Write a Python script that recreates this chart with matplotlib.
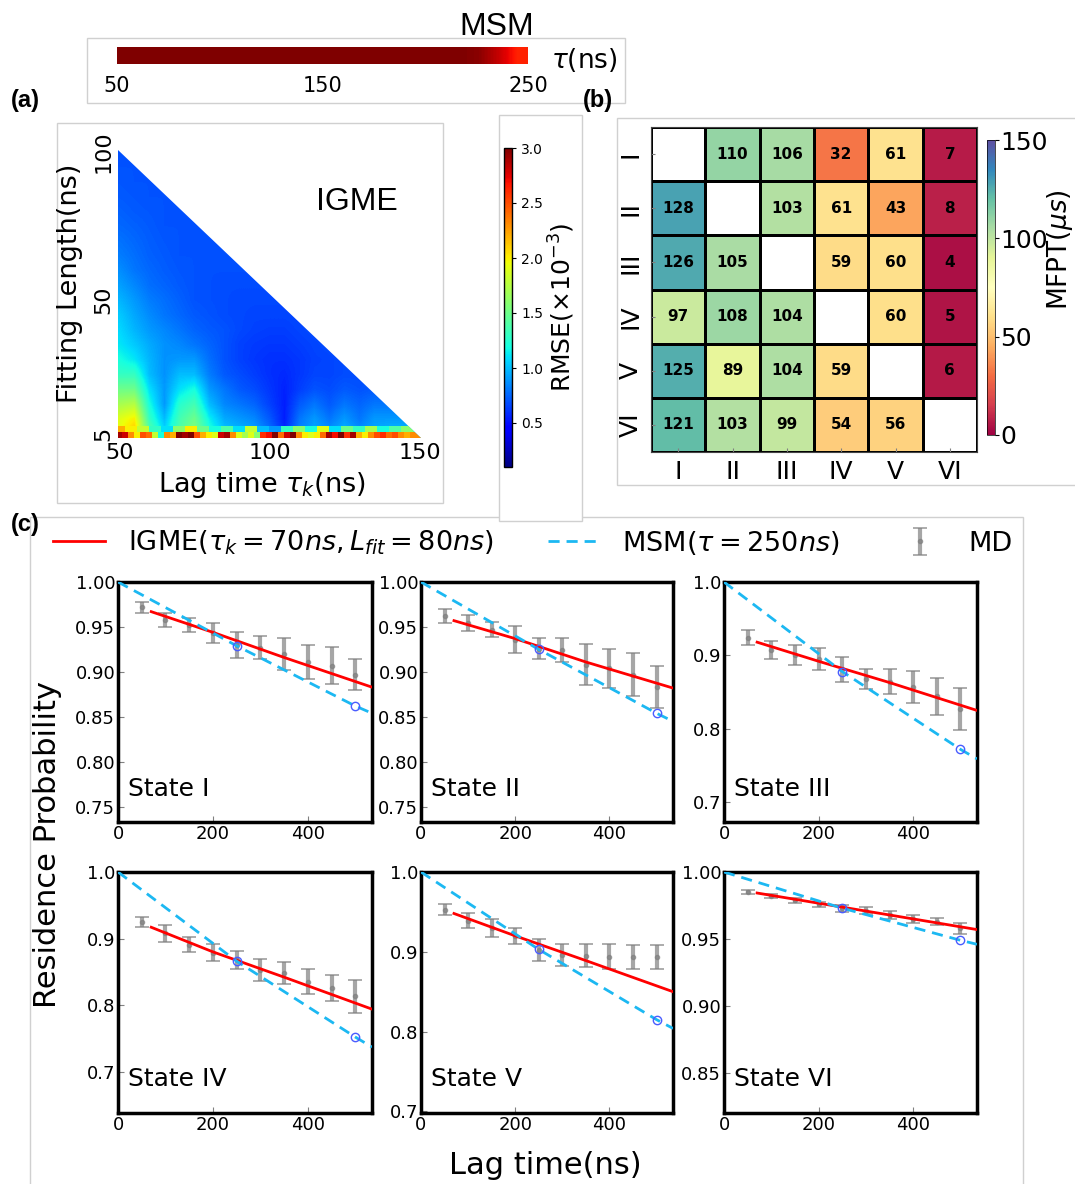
import numpy as np
import matplotlib.pyplot as plt
from matplotlib.patches import Rectangle, Polygon

# ---------------- data ----------------
# MSM RMSE along the lag time (top colour bar)
msm_bar_tau = [50, 60, 70, 80, 90, 100, 110, 120, 130, 140, 150, 160, 170, 180, 190, 200, 210, 220, 230, 240, 250]
msm_bar_rmse = [3.0, 3.0, 3.0, 3.0, 3.0, 3.0, 3.0, 3.0, 3.0, 3.0, 3.0, 3.0, 3.0, 3.0, 3.0, 3.0, 3.0, 3.0, 2.97, 2.82, 2.63]

# IGME RMSE over lag time tau_k (columns) and fitting length (rows)
rmse_tau = [50, 55, 60, 65, 70, 75, 80, 85, 90, 95, 100, 105, 110, 115, 120, 125, 130, 135, 140, 145, 150]
rmse_len = [5, 10, 15, 20, 25, 30, 35, 40, 45, 50, 55, 60, 65, 70, 75, 80, 85, 90, 95, 100]
rmse_grid = [
    [1.95, 2.15, 1.45, 1.10, 1.40, 1.60, 1.25, 1.05, 1.00, 0.95, 0.80, 0.60, 0.85, 0.95, 0.90, 1.00, 0.90, 0.95, 1.00, 1.00, 1.00],
    [1.90, 2.00, 1.30, 1.00, 1.35, 1.50, 1.15, 0.95, 0.90, 0.85, 0.72, 0.55, 0.80, 0.90, 0.80, 0.90, 0.80, 0.90, 0.90, 0.90, 0.90],
    [1.70, 1.75, 1.20, 0.90, 1.25, 1.35, 1.00, 0.85, 0.80, 0.75, 0.65, 0.55, 0.72, 0.80, 0.72, 0.80, 0.75, 0.80, 0.80, 0.80, 0.80],
    [1.50, 1.50, 1.10, 0.90, 1.10, 1.20, 0.90, 0.80, 0.72, 0.68, 0.62, 0.56, 0.64, 0.70, 0.68, 0.72, 0.70, 0.72, 0.72, 0.72, 0.72],
    [1.30, 1.30, 1.00, 0.88, 1.00, 1.00, 0.82, 0.72, 0.68, 0.64, 0.60, 0.58, 0.62, 0.66, 0.66, 0.68, 0.68, 0.70, 0.70, 0.70, 0.70],
    [1.20, 1.12, 0.98, 0.88, 0.90, 0.90, 0.78, 0.70, 0.65, 0.62, 0.60, 0.60, 0.62, 0.65, 0.66, 0.68, 0.68, 0.70, 0.70, 0.70, 0.70],
    [1.12, 1.04, 0.95, 0.88, 0.85, 0.80, 0.75, 0.70, 0.65, 0.63, 0.62, 0.62, 0.64, 0.66, 0.68, 0.68, 0.70, 0.70, 0.70, 0.70, 0.70],
    [1.08, 0.98, 0.90, 0.85, 0.80, 0.75, 0.72, 0.70, 0.67, 0.65, 0.64, 0.64, 0.66, 0.68, 0.68, 0.70, 0.70, 0.70, 0.70, 0.70, 0.70],
    [1.04, 0.94, 0.86, 0.80, 0.76, 0.72, 0.70, 0.68, 0.67, 0.66, 0.66, 0.66, 0.67, 0.68, 0.70, 0.70, 0.70, 0.70, 0.70, 0.70, 0.70],
    [0.98, 0.90, 0.82, 0.78, 0.74, 0.70, 0.69, 0.68, 0.67, 0.67, 0.67, 0.67, 0.68, 0.70, 0.70, 0.70, 0.70, 0.70, 0.70, 0.70, 0.70],
    [0.92, 0.85, 0.78, 0.75, 0.72, 0.70, 0.69, 0.68, 0.68, 0.68, 0.68, 0.68, 0.70, 0.70, 0.70, 0.70, 0.70, 0.70, 0.70, 0.70, 0.70],
    [0.87, 0.80, 0.76, 0.73, 0.71, 0.70, 0.69, 0.69, 0.69, 0.69, 0.69, 0.70, 0.70, 0.70, 0.70, 0.70, 0.70, 0.70, 0.70, 0.70, 0.70],
    [0.82, 0.78, 0.74, 0.72, 0.70, 0.70, 0.70, 0.70, 0.70, 0.70, 0.70, 0.70, 0.70, 0.70, 0.70, 0.70, 0.70, 0.70, 0.70, 0.70, 0.70],
    [0.79, 0.76, 0.73, 0.71, 0.70, 0.70, 0.70, 0.70, 0.70, 0.70, 0.70, 0.70, 0.70, 0.70, 0.70, 0.70, 0.70, 0.70, 0.70, 0.70, 0.70],
    [0.76, 0.74, 0.72, 0.70, 0.70, 0.70, 0.70, 0.70, 0.70, 0.70, 0.70, 0.70, 0.70, 0.70, 0.70, 0.70, 0.70, 0.70, 0.70, 0.70, 0.70],
    [0.74, 0.72, 0.71, 0.70, 0.70, 0.70, 0.70, 0.70, 0.70, 0.70, 0.70, 0.70, 0.70, 0.70, 0.70, 0.70, 0.70, 0.70, 0.70, 0.70, 0.70],
    [0.72, 0.71, 0.70, 0.70, 0.70, 0.70, 0.70, 0.70, 0.70, 0.70, 0.70, 0.70, 0.70, 0.70, 0.70, 0.70, 0.70, 0.70, 0.70, 0.70, 0.70],
    [0.71, 0.70, 0.70, 0.70, 0.70, 0.70, 0.70, 0.70, 0.70, 0.70, 0.70, 0.70, 0.70, 0.70, 0.70, 0.70, 0.70, 0.70, 0.70, 0.70, 0.70],
    [0.70, 0.70, 0.70, 0.70, 0.70, 0.70, 0.70, 0.70, 0.70, 0.70, 0.70, 0.70, 0.70, 0.70, 0.70, 0.70, 0.70, 0.70, 0.70, 0.70, 0.70],
    [0.70, 0.70, 0.70, 0.70, 0.70, 0.70, 0.70, 0.70, 0.70, 0.70, 0.70, 0.70, 0.70, 0.70, 0.70, 0.70, 0.70, 0.70, 0.70, 0.70, 0.70],
]
# shortest fitting lengths, sampled more finely in tau_k
base_tau = list(range(50, 151, 2))
base_rmse = [2.9, 2.8, 2.3, 2.0, 2.5, 2.4, 1.8, 1.2, 2.3, 2.2, 3.0, 2.9, 3.0, 2.5, 2.2, 2.0, 1.9, 2.8, 2.9, 2.3,
             1.9, 1.7, 1.9, 1.6, 2.6, 2.7, 3.0, 2.4, 2.8, 3.0, 2.3, 2.0, 1.9, 2.0, 2.4, 2.9, 2.7, 3.0, 2.6, 2.9,
             2.2, 2.0, 2.3, 2.5, 2.6, 2.4, 2.5, 2.3, 2.2, 2.3, 2.3]
second_tau = list(range(50, 151, 4))
second_rmse = [2.2, 2.0, 1.8, 1.3, 1.1, 1.6, 2.0, 1.5, 1.2, 1.4, 1.1, 1.8, 1.0, 0.9, 1.3, 1.6, 1.2, 1.9, 1.1,
               1.5, 1.3, 1.7, 1.2, 1.4, 1.6, 1.5]

# mean first passage times (us), row = from, column = to
states = ['I', 'II', 'III', 'IV', 'V', 'VI']
mfpt = [
    [np.nan, 110, 106, 32, 61, 7],
    [128, np.nan, 103, 61, 43, 8],
    [126, 105, np.nan, 59, 60, 4],
    [97, 108, 104, np.nan, 60, 5],
    [125, 89, 104, 59, np.nan, 6],
    [121, 103, 99, 54, 56, np.nan],
]

# residence probabilities
md_lag = [50, 100, 150, 200, 250, 300, 350, 400, 450, 500]
md_mean = [
    [0.972, 0.958, 0.952, 0.943, 0.930, 0.927, 0.920, 0.911, 0.907, 0.897],
    [0.962, 0.954, 0.947, 0.936, 0.926, 0.924, 0.908, 0.904, 0.897, 0.883],
    [0.924, 0.907, 0.900, 0.895, 0.881, 0.868, 0.864, 0.857, 0.844, 0.827],
    [0.925, 0.908, 0.891, 0.879, 0.868, 0.853, 0.849, 0.835, 0.826, 0.813],
    [0.953, 0.939, 0.930, 0.920, 0.902, 0.896, 0.895, 0.894, 0.893, 0.893],
    [0.985, 0.982, 0.979, 0.976, 0.973, 0.971, 0.968, 0.965, 0.963, 0.958],
]
md_err = [
    [0.006, 0.008, 0.0075, 0.011, 0.014, 0.013, 0.018, 0.019, 0.021, 0.017],
    [0.0075, 0.009, 0.0085, 0.015, 0.012, 0.0135, 0.023, 0.022, 0.024, 0.023],
    [0.010, 0.012, 0.0135, 0.015, 0.017, 0.014, 0.017, 0.022, 0.025, 0.029],
    [0.0075, 0.0125, 0.011, 0.013, 0.013, 0.017, 0.0165, 0.019, 0.0195, 0.025],
    [0.007, 0.009, 0.011, 0.010, 0.0135, 0.0135, 0.0145, 0.016, 0.015, 0.015],
    [0.0013, 0.0015, 0.0018, 0.0018, 0.0026, 0.0025, 0.003, 0.003, 0.0025, 0.004],
]
igme_lag = [70, 200, 350, 535]
igme_val = [
    [0.967, 0.944, 0.916, 0.883],
    [0.957, 0.937, 0.911, 0.882],
    [0.918, 0.892, 0.863, 0.825],
    [0.917, 0.880, 0.842, 0.794],
    [0.948, 0.920, 0.889, 0.850],
    [0.9843, 0.9767, 0.9679, 0.957],
]
msm_lag = [0, 250, 500, 535]
msm_val = [
    [1.0, 0.929, 0.862, 0.854],
    [1.0, 0.925, 0.854, 0.845],
    [1.0, 0.878, 0.772, 0.759],
    [1.0, 0.866, 0.752, 0.737],
    [1.0, 0.903, 0.815, 0.804],
    [1.0, 0.973, 0.949, 0.946],
]
ylims = [(0.733, 1.0), (0.733, 1.0), (0.673, 1.0), (0.638, 1.0), (0.698, 1.0), (0.82, 1.0)]
yticks = [[0.75, 0.80, 0.85, 0.90, 0.95, 1.00], [0.75, 0.80, 0.85, 0.90, 0.95, 1.00],
          [0.7, 0.8, 0.9, 1.0], [0.7, 0.8, 0.9, 1.0], [0.7, 0.8, 0.9, 1.0],
          [0.85, 0.90, 0.95, 1.00]]
yfmt = ['%.2f', '%.2f', '%.1f', '%.1f', '%.1f', '%.2f']

# ---------------- figure ----------------
W, H = 1075, 1184
fig = plt.figure(figsize=(W / 100, H / 100), dpi=100)
ARIAL = 'Liberation Sans'


def box(x0, y0, x1, y1):
    return [x0 / W, 1 - y1 / H, (x1 - x0) / W, (y1 - y0) / H]


def frame(x0, y0, x1, y1, z=-2):
    fig.add_artist(Rectangle((x0 / W, 1 - y1 / H), (x1 - x0) / W, (y1 - y0) / H,
                             transform=fig.transFigure, facecolor='white',
                             edgecolor='#d0d0d0', lw=1, zorder=z))


def ftext(x, y, s, **kw):
    kw.setdefault('ha', 'center')
    kw.setdefault('va', 'center')
    fig.text(x / W, 1 - y / H, s, **kw)


# panel frames
frame(87, 38, 625, 103)
frame(57, 123, 443, 503)
frame(30, 517, 1023, 1200)
frame(499, 115, 582, 521, z=-1)
frame(617, 118, 1080, 485)

# MSM colour bar
ax_m = fig.add_axes(box(117, 47, 528, 64))
ax_m.imshow(np.array([msm_bar_rmse]), cmap='jet', vmin=0.1, vmax=3.0, aspect='auto',
            extent=[msm_bar_tau[0], msm_bar_tau[-1], 0, 1], interpolation='bilinear')
ax_m.set_xlim(50, 250)
ax_m.set_xticks([50, 150, 250])
ax_m.set_yticks([])
ax_m.tick_params(axis='x', length=0, labelsize=15, pad=9)
for sp in ax_m.spines.values():
    sp.set_visible(False)
ftext(497, 27, 'MSM', fontsize=23, family=ARIAL)
ftext(584, 60, r'$\tau$(ns)', fontsize=19)

# (a) IGME RMSE map
ax_a = fig.add_axes(box(118, 150, 421, 438))
im = ax_a.imshow(np.array(rmse_grid), origin='lower', cmap='jet', vmin=0.1, vmax=3.0,
                 extent=[rmse_tau[0] - 2.5, rmse_tau[-1] + 2.5, rmse_len[0] - 2.5, rmse_len[-1] + 2.5],
                 aspect='auto', interpolation='bilinear')
im_second = ax_a.imshow(np.array([second_rmse]), cmap='jet', vmin=0.1, vmax=3.0,
                        extent=[second_tau[0] - 2, second_tau[-1] + 2, 5.5, 7.5],
                        aspect='auto', interpolation='nearest')
im_base = ax_a.imshow(np.array([base_rmse]), cmap='jet', vmin=0.1, vmax=3.0,
                      extent=[base_tau[0] - 1, base_tau[-1] + 1, 3.5, 5.5],
                      aspect='auto', interpolation='nearest')
tri = Polygon([(49.5, 3.5), (49.5, 100.5), (150.5, 3.5)], transform=ax_a.transData)
for img in (im, im_second, im_base):
    img.set_clip_path(tri)
ax_a.set_xlim(49.5, 150.5)
ax_a.set_ylim(3.5, 100.5)
ax_a.set_xticks([50, 100, 150])
ax_a.set_yticks([5, 50, 100])
ax_a.tick_params(length=0, labelsize=16)
for lab in ax_a.get_yticklabels():
    lab.set_rotation(90)
    lab.set_va('center')
for sp in ax_a.spines.values():
    sp.set_visible(False)
ax_a.text(0.79, 0.82, 'IGME', transform=ax_a.transAxes, fontsize=23, family=ARIAL,
          ha='center', va='center')
ftext(262, 485, r'Lag time $\tau_k$(ns)', fontsize=19.5)
ftext(70, 283, 'Fitting Length(ns)', fontsize=19.5, rotation=90)

cax_a = fig.add_axes(box(504, 148, 512, 467))
cb_a = fig.colorbar(im, cax=cax_a, ticks=[0.5, 1.0, 1.5, 2.0, 2.5, 3.0])
cb_a.ax.tick_params(labelsize=10, length=3, width=0.8)
cb_a.outline.set_linewidth(1)
ftext(562, 307, r'RMSE($\times10^{-3}$)', fontsize=18, rotation=90)

# (b) MFPT matrix
ax_b = fig.add_axes(box(651, 127, 977, 452))
mfpt_arr = np.ma.masked_invalid(np.array(mfpt, dtype=float))
pc = ax_b.pcolormesh(np.arange(7), np.arange(7), mfpt_arr, cmap='Spectral', vmin=0, vmax=150,
                     edgecolors='k', linewidth=1)
ax_b.set_xlim(0, 6)
ax_b.set_ylim(6, 0)
for i in range(6):
    for j in range(6):
        if not np.isnan(mfpt[i][j]):
            ax_b.text(j + 0.5, i + 0.5, '%d' % mfpt[i][j], ha='center', va='center',
                      fontsize=11, fontweight='bold')
ax_b.set_xticks(np.arange(6) + 0.5)
ax_b.set_yticks(np.arange(6) + 0.5)
ax_b.set_xticklabels(states)
ax_b.set_yticklabels(states, rotation=90, va='center')
ax_b.tick_params(direction='in', length=3, color='gray', labelsize=18, pad=6)
for sp in ax_b.spines.values():
    sp.set_color('#444444')

cax_b = fig.add_axes(box(987, 140, 995, 435))
cb_b = fig.colorbar(pc, cax=cax_b, ticks=[0, 50, 100, 150])
cb_b.ax.tick_params(labelsize=18, length=3, width=0.8, pad=1)
cb_b.outline.set_linewidth(0.5)
ftext(1060, 250, r'MFPT($\mu s$)', fontsize=19, rotation=90)

# (c) residence probabilities
boxes = [(118, 582, 372, 822), (421, 582, 673, 822), (724, 582, 977, 822),
         (118, 872, 372, 1113), (421, 872, 673, 1113), (724, 872, 977, 1113)]
for k, b in enumerate(boxes):
    ax = fig.add_axes(box(*b))
    eb = ax.errorbar(md_lag, md_mean[k], yerr=md_err[k], fmt='o', ms=3, color='gray',
                     ecolor='gray', elinewidth=3, capsize=5, capthick=1.3, alpha=0.7, zorder=2)
    ln_igme, = ax.plot(igme_lag, igme_val[k], color='red', lw=2, zorder=3)
    ln_msm, = ax.plot(msm_lag, msm_val[k], color='#1cb8f2', lw=2, ls=(0, (4, 2.5)), zorder=3)
    ax.plot(msm_lag[1:3], msm_val[k][1:3], 'o', mfc='none', mec='#4a5cff', ms=6, mew=1, zorder=4)
    ax.set_xlim(0, 535)
    ax.set_ylim(*ylims[k])
    ax.set_xticks([0, 200, 400])
    ax.set_yticks(yticks[k])
    ax.set_yticklabels([yfmt[k] % v for v in yticks[k]])
    ax.tick_params(direction='in', length=4, color='gray', labelsize=13, pad=2)
    for sp in ax.spines.values():
        sp.set_linewidth(2.5)
    ax.text(0.04, 0.11, 'State ' + states[k], transform=ax.transAxes, fontsize=18,
            va='baseline')
    if k == 0:
        handles = [ln_igme, ln_msm, eb]

fig.legend(handles,
           [r'IGME($\tau_k=70ns,L_{fit}=80ns$)', r'MSM($\tau=250ns$)', 'MD'],
           loc='center left', bbox_to_anchor=(29 / W, 1 - 543 / H), ncol=3, frameon=False,
           fontsize=19.5, handlelength=1.9, handletextpad=0.85, columnspacing=2.0)
ftext(48, 845, 'Residence Probability', fontsize=22, rotation=90)
ftext(545, 1165, 'Lag time(ns)', fontsize=22)

# panel labels
ftext(25, 101, '(a)', fontsize=17, fontweight='bold', family=ARIAL)
ftext(598, 100, '(b)', fontsize=17, fontweight='bold', family=ARIAL)
ftext(25, 525, '(c)', fontsize=17, fontweight='bold', family=ARIAL)

fig.savefig('out.png', dpi=100)
